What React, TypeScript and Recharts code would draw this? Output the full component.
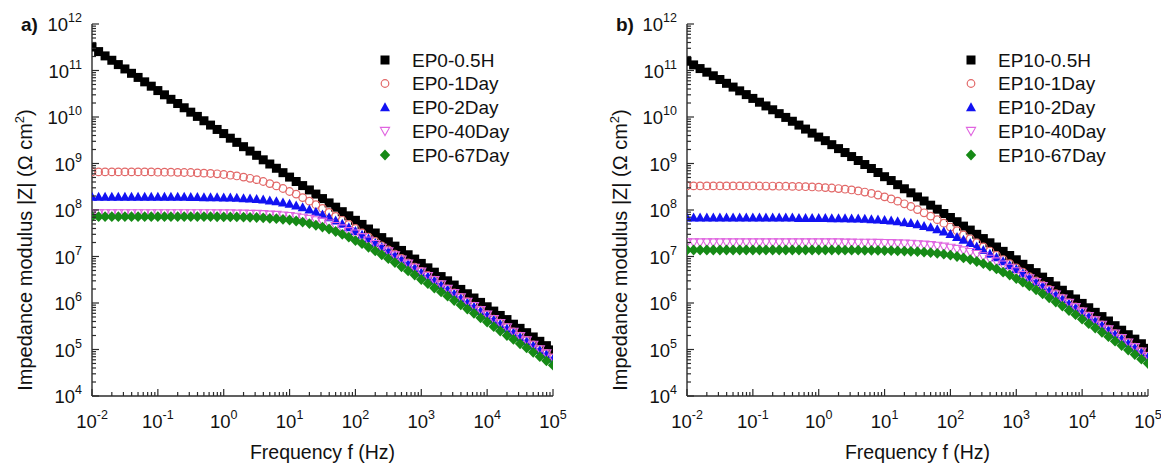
import React from 'react';
import { ScatterChart, Scatter, XAxis, YAxis } from 'recharts';

// measurement frequencies (Hz), 10 points per decade
const freqHz = [
  0.01, 0.0126, 0.0158, 0.02, 0.0251, 0.0316, 0.0398, 0.0501, 0.0631, 0.0794,
  0.1, 0.126, 0.158, 0.2, 0.251, 0.316, 0.398, 0.501, 0.631, 0.794,
  1, 1.26, 1.58, 2, 2.51, 3.16, 3.98, 5.01, 6.31, 7.94,
  10, 12.6, 15.8, 20, 25.1, 31.6, 39.8, 50.1, 63.1, 79.4,
  100, 126, 158, 200, 251, 316, 398, 501, 631, 794,
  1000, 1260, 1580, 2000, 2510, 3160, 3980, 5010, 6310, 7940,
  10000, 12600, 15800, 20000, 25100, 31600, 39800, 50100, 63100, 79400,
  100000,
];

// panel a) |Z| in ohm cm2
const ep0_05h = [
  3.2e11, 2.55e11, 2.06e11, 1.66e11, 1.34e11, 1.08e11, 8.7e10, 7.1e10, 5.7e10, 4.6e10,
  3.7e10, 3.0e10, 2.4e10, 1.95e10, 1.58e10, 1.27e10, 1.03e10, 8.3e9, 6.7e9, 5.4e9,
  4.4e9, 3.5e9, 2.85e9, 2.3e9, 1.85e9, 1.5e9, 1.2e9, 9.75e8, 7.9e8, 6.35e8,
  5.1e8, 4.1e8, 3.35e8, 2.7e8, 2.2e8, 1.76e8, 1.42e8, 1.15e8, 9.2e7, 7.5e7,
  6.0e7, 4.9e7, 3.9e7, 3.2e7, 2.55e7, 2.07e7, 1.67e7, 1.35e7, 1.09e7, 8.8e6,
  7.1e6, 5.7e6, 4.6e6, 3.7e6, 3.0e6, 2.43e6, 1.96e6, 1.58e6, 1.28e6, 1.03e6,
  8.3e5, 6.7e5, 5.4e5, 4.4e5, 3.5e5, 2.85e5, 2.3e5, 1.86e5, 1.5e5, 1.21e5,
  9.8e4,
];
const ep0_1d = [
  6.6e8, 6.6e8, 6.6e8, 6.6e8, 6.6e8, 6.6e8, 6.6e8, 6.6e8, 6.6e8, 6.6e8,
  6.5e8, 6.5e8, 6.5e8, 6.45e8, 6.4e8, 6.4e8, 6.3e8, 6.2e8, 6.1e8, 6.0e8,
  5.8e8, 5.6e8, 5.4e8, 5.1e8, 4.8e8, 4.5e8, 4.1e8, 3.7e8, 3.3e8, 2.9e8,
  2.5e8, 2.2e8, 1.85e8, 1.55e8, 1.3e8, 1.08e8, 8.9e7, 7.3e7, 6.0e7, 4.9e7,
  4.0e7, 3.2e7, 2.6e7, 2.1e7, 1.7e7, 1.39e7, 1.12e7, 9.1e6, 7.3e6, 5.9e6,
  4.8e6, 3.9e6, 3.1e6, 2.5e6, 2.0e6, 1.64e6, 1.32e6, 1.07e6, 8.6e5, 7.0e5,
  5.6e5, 4.5e5, 3.7e5, 3.0e5, 2.4e5, 1.93e5, 1.56e5, 1.26e5, 1.01e5, 8.2e4,
  6.6e4,
];
const ep0_2d = [
  1.9e8, 1.9e8, 1.9e8, 1.9e8, 1.9e8, 1.9e8, 1.9e8, 1.9e8, 1.9e8, 1.9e8,
  1.9e8, 1.9e8, 1.9e8, 1.9e8, 1.9e8, 1.89e8, 1.88e8, 1.87e8, 1.87e8, 1.86e8,
  1.85e8, 1.83e8, 1.81e8, 1.78e8, 1.75e8, 1.71e8, 1.66e8, 1.59e8, 1.52e8, 1.44e8,
  1.35e8, 1.24e8, 1.14e8, 1.02e8, 9.1e7, 7.9e7, 6.9e7, 5.9e7, 5.0e7, 4.2e7,
  3.5e7, 2.9e7, 2.4e7, 1.94e7, 1.58e7, 1.29e7, 1.05e7, 8.5e6, 6.9e6, 5.6e6,
  4.5e6, 3.7e6, 3.0e6, 2.4e6, 1.94e6, 1.57e6, 1.26e6, 1.02e6, 8.2e5, 6.7e5,
  5.4e5, 4.3e5, 3.5e5, 2.8e5, 2.3e5, 1.84e5, 1.49e5, 1.2e5, 9.7e4, 7.8e4,
  6.3e4,
];
const ep0_40d = [
  8.5e7, 8.5e7, 8.5e7, 8.5e7, 8.5e7, 8.5e7, 8.5e7, 8.5e7, 8.5e7, 8.5e7,
  8.5e7, 8.5e7, 8.5e7, 8.5e7, 8.5e7, 8.5e7, 8.5e7, 8.5e7, 8.45e7, 8.4e7,
  8.4e7, 8.4e7, 8.3e7, 8.3e7, 8.2e7, 8.2e7, 8.1e7, 7.9e7, 7.8e7, 7.6e7,
  7.4e7, 7.1e7, 6.8e7, 6.4e7, 6.0e7, 5.6e7, 5.1e7, 4.5e7, 4.0e7, 3.5e7,
  3.1e7, 2.6e7, 2.2e7, 1.85e7, 1.54e7, 1.28e7, 1.05e7, 8.6e6, 7.0e6, 5.7e6,
  4.7e6, 3.8e6, 3.1e6, 2.5e6, 2.0e6, 1.63e6, 1.32e6, 1.06e6, 8.6e5, 7.0e5,
  5.6e5, 4.5e5, 3.7e5, 3.0e5, 2.4e5, 1.93e5, 1.56e5, 1.26e5, 1.01e5, 8.2e4,
  6.6e4,
];
const ep0_67d = [
  7.2e7, 7.2e7, 7.2e7, 7.2e7, 7.2e7, 7.2e7, 7.2e7, 7.2e7, 7.2e7, 7.2e7,
  7.2e7, 7.2e7, 7.2e7, 7.2e7, 7.2e7, 7.2e7, 7.2e7, 7.2e7, 7.2e7, 7.15e7,
  7.1e7, 7.1e7, 7.1e7, 7.0e7, 6.95e7, 6.9e7, 6.8e7, 6.6e7, 6.5e7, 6.3e7,
  6.1e7, 5.8e7, 5.5e7, 5.1e7, 4.7e7, 4.3e7, 3.9e7, 3.45e7, 3.0e7, 2.6e7,
  2.2e7, 1.89e7, 1.58e7, 1.32e7, 1.09e7, 9.0e6, 7.4e6, 6.0e6, 4.9e6, 4.0e6,
  3.2e6, 2.6e6, 2.1e6, 1.73e6, 1.4e6, 1.13e6, 9.1e5, 7.4e5, 6.0e5, 4.8e5,
  3.9e5, 3.1e5, 2.5e5, 2.0e5, 1.65e5, 1.33e5, 1.08e5, 8.7e4, 7.0e4, 5.7e4,
  4.6e4,
];

// panel b)
const ep10_05h = [
  1.58e11, 1.32e11, 1.1e11, 9.2e10, 7.7e10, 6.4e10, 5.3e10, 4.4e10, 3.65e10, 3.03e10,
  2.51e10, 2.08e10, 1.73e10, 1.43e10, 1.18e10, 9.8e9, 8.1e9, 6.7e9, 5.5e9, 4.5e9,
  3.7e9, 3.1e9, 2.54e9, 2.09e9, 1.72e9, 1.41e9, 1.16e9, 9.5e8, 7.8e8, 6.4e8,
  5.2e8, 4.3e8, 3.5e8, 2.86e8, 2.34e8, 1.91e8, 1.56e8, 1.27e8, 1.04e8, 8.4e7,
  6.9e7, 5.6e7, 4.5e7, 3.7e7, 3.0e7, 2.43e7, 1.97e7, 1.6e7, 1.29e7, 1.05e7,
  8.5e6, 6.8e6, 5.5e6, 4.5e6, 3.6e6, 2.9e6, 2.33e6, 1.88e6, 1.51e6, 1.22e6,
  9.8e5, 7.9e5, 6.3e5, 5.1e5, 4.1e5, 3.25e5, 2.6e5, 2.08e5, 1.67e5, 1.33e5,
  1.06e5,
];
const ep10_1d = [
  3.3e8, 3.3e8, 3.3e8, 3.3e8, 3.3e8, 3.3e8, 3.3e8, 3.3e8, 3.3e8, 3.29e8,
  3.29e8, 3.28e8, 3.27e8, 3.27e8, 3.25e8, 3.24e8, 3.22e8, 3.2e8, 3.17e8, 3.13e8,
  3.09e8, 3.03e8, 2.97e8, 2.89e8, 2.8e8, 2.7e8, 2.57e8, 2.43e8, 2.27e8, 2.1e8,
  1.92e8, 1.73e8, 1.55e8, 1.36e8, 1.19e8, 1.02e8, 8.7e7, 7.4e7, 6.2e7, 5.2e7,
  4.3e7, 3.6e7, 2.9e7, 2.4e7, 1.97e7, 1.61e7, 1.31e7, 1.06e7, 8.6e6, 7.0e6,
  5.7e6, 4.6e6, 3.7e6, 3.0e6, 2.43e6, 1.96e6, 1.58e6, 1.27e6, 1.02e6, 8.2e5,
  6.6e5, 5.3e5, 4.3e5, 3.4e5, 2.75e5, 2.2e5, 1.76e5, 1.41e5, 1.13e5, 9.0e4,
  7.2e4,
];
const ep10_2d = [
  6.8e7, 6.8e7, 6.8e7, 6.8e7, 6.8e7, 6.8e7, 6.8e7, 6.8e7, 6.8e7, 6.8e7,
  6.8e7, 6.8e7, 6.8e7, 6.8e7, 6.8e7, 6.8e7, 6.8e7, 6.7e7, 6.7e7, 6.7e7,
  6.7e7, 6.7e7, 6.6e7, 6.6e7, 6.6e7, 6.5e7, 6.5e7, 6.4e7, 6.3e7, 6.2e7,
  6.0e7, 5.9e7, 5.7e7, 5.4e7, 5.2e7, 4.9e7, 4.5e7, 4.2e7, 3.8e7, 3.4e7,
  3.0e7, 2.6e7, 2.26e7, 1.93e7, 1.63e7, 1.37e7, 1.14e7, 9.5e6, 7.8e6, 6.4e6,
  5.3e6, 4.3e6, 3.5e6, 2.8e6, 2.3e6, 1.85e6, 1.49e6, 1.21e6, 9.7e5, 7.8e5,
  6.3e5, 5.1e5, 4.1e5, 3.3e5, 2.6e5, 2.1e5, 1.68e5, 1.35e5, 1.08e5, 8.6e4,
  6.9e4,
];
const ep10_40d = [
  2.0e7, 2.0e7, 2.0e7, 2.0e7, 2.0e7, 2.0e7, 2.0e7, 2.0e7, 2.0e7, 2.0e7,
  2.0e7, 2.0e7, 2.0e7, 2.0e7, 2.0e7, 2.0e7, 2.0e7, 2.0e7, 2.0e7, 2.0e7,
  2.0e7, 2.0e7, 2.0e7, 2.0e7, 1.98e7, 1.98e7, 1.97e7, 1.97e7, 1.96e7, 1.95e7,
  1.94e7, 1.93e7, 1.91e7, 1.89e7, 1.87e7, 1.83e7, 1.79e7, 1.75e7, 1.69e7, 1.62e7,
  1.54e7, 1.45e7, 1.35e7, 1.24e7, 1.13e7, 1.01e7, 8.9e6, 7.8e6, 6.7e6, 5.7e6,
  4.8e6, 4.0e6, 3.4e6, 2.8e6, 2.3e6, 1.87e6, 1.52e6, 1.24e6, 1.0e6, 8.1e5,
  6.5e5, 5.2e5, 4.2e5, 3.4e5, 2.7e5, 2.2e5, 1.76e5, 1.41e5, 1.12e5, 9.0e4,
  7.2e4,
];
const ep10_67d = [
  1.38e7, 1.38e7, 1.38e7, 1.38e7, 1.38e7, 1.38e7, 1.38e7, 1.38e7, 1.38e7, 1.38e7,
  1.38e7, 1.38e7, 1.38e7, 1.38e7, 1.38e7, 1.38e7, 1.38e7, 1.38e7, 1.38e7, 1.38e7,
  1.38e7, 1.38e7, 1.38e7, 1.38e7, 1.37e7, 1.37e7, 1.37e7, 1.36e7, 1.36e7, 1.35e7,
  1.34e7, 1.34e7, 1.32e7, 1.31e7, 1.29e7, 1.27e7, 1.24e7, 1.21e7, 1.17e7, 1.12e7,
  1.07e7, 1.0e7, 9.3e6, 8.6e6, 7.8e6, 7.0e6, 6.2e6, 5.4e6, 4.6e6, 4.0e6,
  3.35e6, 2.8e6, 2.33e6, 1.92e6, 1.58e6, 1.29e6, 1.05e6, 8.6e5, 6.9e5, 5.6e5,
  4.5e5, 3.6e5, 2.9e5, 2.35e5, 1.89e5, 1.51e5, 1.22e5, 9.7e4, 7.8e4, 6.2e4,
  5.0e4,
];

const ep0Names = ['EP0-0.5H', 'EP0-1Day', 'EP0-2Day', 'EP0-40Day', 'EP0-67Day'];
const ep10Names = ['EP10-0.5H', 'EP10-1Day', 'EP10-2Day', 'EP10-40Day', 'EP10-67Day'];

const xMajor = [0.01, 0.1, 1, 10, 100, 1000, 10000, 100000];
const yMajor = [1e4, 1e5, 1e6, 1e7, 1e8, 1e9, 1e10, 1e11, 1e12];

// minor ticks 2..9 inside each decade
const withMinor = (major: number[]) =>
  major.flatMap((m, i) => (i === major.length - 1 ? [m] : [1, 2, 3, 4, 5, 6, 7, 8, 9].map((k) => m * k)));
const xTicks = withMinor(xMajor);
const yTicks = withMinor(yMajor);

const FONT = "Arial, 'Liberation Sans', Helvetica, sans-serif";
const AXIS = '#2b2b2b';

type Kind = 'square' | 'circle' | 'tri' | 'tridown' | 'diamond';
const styles: { kind: Kind; color: string }[] = [
  { kind: 'square', color: '#000000' },
  { kind: 'circle', color: '#e26868' },
  { kind: 'tri', color: '#1212f2' },
  { kind: 'tridown', color: '#e064e0' },
  { kind: 'diamond', color: '#168a16' },
];

const Marker = ({ cx, cy, kind, color }: { cx: number; cy: number; kind: Kind; color: string }) => {
  if (cx == null || cy == null) return null;
  switch (kind) {
    case 'square':
      return <rect x={cx - 4.5} y={cy - 4.5} width={9} height={9} fill={color} />;
    case 'circle':
      return <circle cx={cx} cy={cy} r={3.8} fill="none" stroke={color} strokeWidth={1.2} />;
    case 'tri':
      return <polygon points={`${cx},${cy - 5.2} ${cx + 5},${cy + 3.8} ${cx - 5},${cy + 3.8}`} fill={color} />;
    case 'tridown':
      return (
        <polygon
          points={`${cx - 4.6},${cy - 3.6} ${cx + 4.6},${cy - 3.6} ${cx},${cy + 4.6}`}
          fill="none"
          stroke={color}
          strokeWidth={1.1}
        />
      );
    default:
      return <polygon points={`${cx},${cy - 5.4} ${cx + 5.2},${cy} ${cx},${cy + 5.4} ${cx - 5.2},${cy}`} fill={color} />;
  }
};

const isDecade = (v: number) => Math.abs(Math.log10(v) - Math.round(Math.log10(v))) < 1e-6;

const XTick = (props: any) => {
  const { x, y, payload } = props;
  const v = payload.value;
  const major = isDecade(v);
  return (
    <g>
      <line x1={x} x2={x} y1={y} y2={y - (major ? 7 : 4)} stroke={AXIS} strokeWidth={1.2} />
      {major && (
        <text x={x} y={y + 32} textAnchor="middle" fontFamily={FONT} fontSize={18.5} fill="#111">
          10<tspan dy={-9} fontSize={12.5}>{Math.round(Math.log10(v))}</tspan>
        </text>
      )}
    </g>
  );
};

const YTick = (props: any) => {
  const { x, y, payload } = props;
  const v = payload.value;
  const major = isDecade(v);
  return (
    <g>
      <line x1={x} x2={x + (major ? 7 : 4)} y1={y} y2={y} stroke={AXIS} strokeWidth={1.2} />
      {major && (
        <text x={x - 10} y={y + 7} textAnchor="end" fontFamily={FONT} fontSize={18.5} fill="#111">
          10<tspan dy={-9} fontSize={12.5}>{Math.round(Math.log10(v))}</tspan>
        </text>
      )}
    </g>
  );
};

interface PanelProps {
  letter: string;
  names: string[];
  values: number[][];
  width: number;
  marginLeft: number;
  marginRight: number;
  legendMarkerX: number;
  legendTextX: number;
}

const Panel = ({ letter, names, values, width, marginLeft, marginRight, legendMarkerX, legendTextX }: PanelProps) => {
  const plotLeft = marginLeft + 92;
  const plotRight = width - marginRight;
  const plotMid = (plotLeft + plotRight) / 2;
  const rows = [60, 83.5, 107.5, 131, 155];
  return (
    <div style={{ position: 'relative', width, height: 464 }}>
      <ScatterChart width={width} height={464} margin={{ top: 24, right: marginRight, bottom: 0, left: marginLeft }}>
        <XAxis
          type="number"
          dataKey="f"
          scale="log"
          domain={[0.01, 100000]}
          ticks={xTicks}
          interval={0}
          tick={<XTick />}
          tickLine={false}
          tickSize={0}
          tickMargin={0}
          height={68}
          axisLine={{ stroke: AXIS, strokeWidth: 1.4 }}
          allowDataOverflow
        />
        <XAxis
          xAxisId="top"
          orientation="top"
          type="number"
          dataKey="f"
          scale="log"
          domain={[0.01, 100000]}
          tick={false}
          tickLine={false}
          height={0}
          axisLine={{ stroke: AXIS, strokeWidth: 1.4 }}
          allowDataOverflow
        />
        <YAxis
          type="number"
          dataKey="z"
          scale="log"
          domain={[1e4, 1e12]}
          ticks={yTicks}
          interval={0}
          tick={<YTick />}
          tickLine={false}
          tickSize={0}
          tickMargin={0}
          width={92}
          axisLine={{ stroke: AXIS, strokeWidth: 1.4 }}
          allowDataOverflow
        />
        <YAxis
          yAxisId="right"
          orientation="right"
          type="number"
          dataKey="z"
          scale="log"
          domain={[1e4, 1e12]}
          tick={false}
          tickLine={false}
          width={0}
          axisLine={{ stroke: AXIS, strokeWidth: 1.4 }}
          allowDataOverflow
        />
        {values.map((vals, k) => (
          <Scatter
            key={names[k]}
            name={names[k]}
            data={freqHz.map((f, i) => ({ f, z: vals[i] }))}
            isAnimationActive={false}
            shape={(p: any) => <Marker cx={p.cx} cy={p.cy} kind={styles[k].kind} color={styles[k].color} />}
          />
        ))}
      </ScatterChart>
      <svg
        width={width}
        height={464}
        style={{ position: 'absolute', left: 0, top: 0, pointerEvents: 'none' }}
        fontFamily={FONT}
      >
        <text x={plotLeft - 71} y={31} fontSize={19} fontWeight="bold" fill="#111">
          {letter}
        </text>
        <text
          transform={`translate(${plotLeft - 60}, 250) rotate(-90)`}
          textAnchor="middle"
          fontSize={20}
          fill="#111"
        >
          Impedance modulus |Z| (Ω cm<tspan dy={-8} fontSize={13}>2</tspan>
          <tspan dy={8}>)</tspan>
        </text>
        <text x={plotMid} y={459} textAnchor="middle" fontSize={19.5} fill="#111">
          Frequency f (Hz)
        </text>
        {names.map((n, k) => (
          <g key={n}>
            <Marker cx={legendMarkerX} cy={rows[k]} kind={styles[k].kind} color={styles[k].color} />
            <text x={legendTextX} y={rows[k] + 6.5} fontSize={19} fill="#111">
              {n}
            </text>
          </g>
        ))}
      </svg>
    </div>
  );
}

export default function App() {
  return (
    <div style={{ position: 'absolute', left: 0, top: 0, width: 1161, height: 464, display: 'flex', background: '#fff' }}>
      <Panel
        letter="a)"
        names={ep0Names}
        values={[ep0_05h, ep0_1d, ep0_2d, ep0_40d, ep0_67d]}
        width={580}
        marginLeft={0}
        marginRight={27}
        legendMarkerX={385}
        legendTextX={412}
      />
      <Panel
        letter="b)"
        names={ep10Names}
        values={[ep10_05h, ep10_1d, ep10_2d, ep10_40d, ep10_67d]}
        width={581}
        marginLeft={15}
        marginRight={13}
        legendMarkerX={391}
        legendTextX={418}
      />
    </div>
  );
}
